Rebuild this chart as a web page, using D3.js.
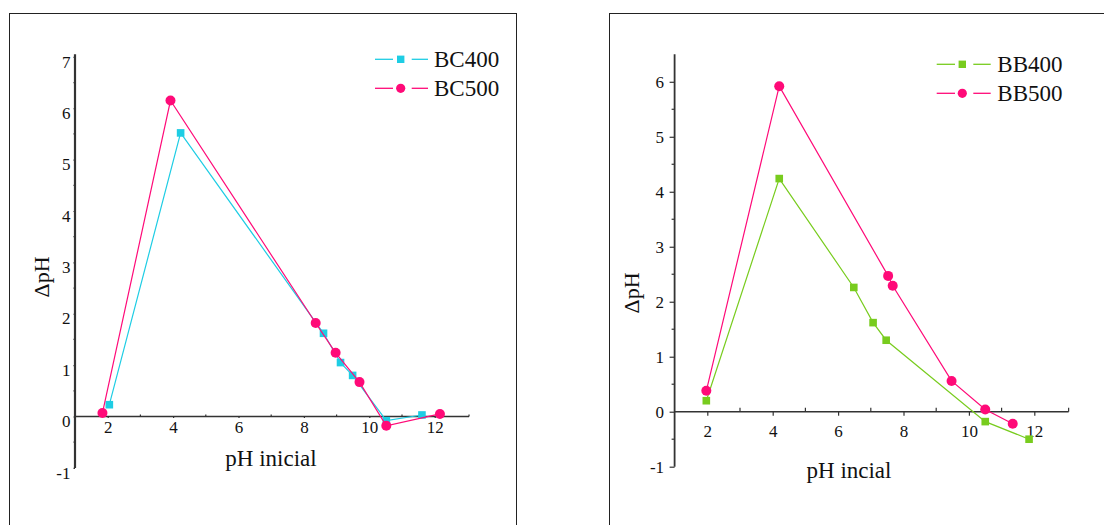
<!DOCTYPE html>
<html><head><meta charset="utf-8">
<script src="https://cdn.jsdelivr.net/npm/d3@7"></script>
<style>html,body{margin:0;padding:0;background:#fff;} svg{display:block;}</style>
</head><body>
<svg id="chart" width="1104" height="525"></svg>
<script>
// ---- Data ----
const bc400X = [2.05, 4.23, 8.60, 9.12, 9.49, 10.52, 11.61];
const bc400Y = [0.23, 5.52, 1.62, 1.05, 0.80, -0.08, 0.03];
const bc500X = [1.84, 3.92, 8.36, 8.97, 9.70, 10.52, 12.16];
const bc500Y = [0.07, 6.15, 1.82, 1.24, 0.67, -0.18, 0.05];

const bb400X = [1.97, 4.20, 6.48, 7.07, 7.47, 10.50, 11.84];
const bb400Y = [0.20, 4.24, 2.26, 1.62, 1.30, -0.18, -0.50];
const bb500X = [1.97, 4.20, 7.53, 7.67, 9.47, 10.50, 11.34];
const bb500Y = [0.38, 5.92, 2.47, 2.29, 0.56, 0.04, -0.22];

const xTickValues = [2, 4, 6, 8, 10, 12];
const xMinorTicks = [3, 5, 7, 9, 11];
const leftYTicks = [-1, 0, 1, 2, 3, 4, 5, 6, 7];
const rightYTicks = [-1, 0, 1, 2, 3, 4, 5, 6];
const leftSeriesNames = ["BC400", "BC500"];
const rightSeriesNames = ["BB400", "BB500"];

const CYAN = "#1ecde4", PINK = "#ff0a78", GREEN = "#78cc1e", AXIS = "#333";
const FONT = "'Liberation Serif','Times New Roman',serif";

const svg = d3.select("#chart");

// panel frames
svg.append("rect").attr("x", 9.5).attr("y", 13.5).attr("width", 507).attr("height", 540)
  .attr("fill", "none").attr("stroke", "#222").attr("stroke-width", 1);
svg.append("rect").attr("x", 609.5).attr("y", 13.5).attr("width", 540).attr("height", 540)
  .attr("fill", "none").attr("stroke", "#222").attr("stroke-width", 1);

const fmt = d => String(d);

function styleLabels(sel) {
  sel.selectAll(".tick text")
    .style("font-family", FONT).style("font-size", "17px").style("fill", "#111");
}

function drawPanel(o) {
  const g = svg.append("g");
  const x = d3.scaleLinear().domain([1, 13.05]).range([o.x0, o.x0 + 12.05 * 32.7]);
  const y = d3.scaleLinear().domain(o.yDomain).range(o.yRange);

  // y axis
  const yAx = g.append("g").attr("transform", `translate(${o.x0},0)`)
    .call(d3.axisLeft(y).tickValues(o.yTicks).tickSize(o.yMajor).tickPadding(o.yPad).tickFormat(fmt));
  yAx.select(".domain").attr("stroke", AXIS).attr("stroke-width", o.yAxisW)
    .attr("d", `M0,${y(o.yDomain[1])}V${y(o.yDomain[0])}`);
  yAx.selectAll(".tick line").attr("stroke", AXIS).attr("stroke-width", 1.2);
  yAx.selectAll(".tick text").attr("dy", o.yLabelDy);
  styleLabels(yAx);
  const yMinor = d3.range(o.yDomain[0] + 0.5, o.yDomain[1], 1);
  g.append("g").selectAll("line").data(yMinor).join("line")
    .attr("x1", o.x0 - o.yMinor).attr("x2", o.x0).attr("y1", d => y(d)).attr("y2", d => y(d))
    .attr("stroke", AXIS).attr("stroke-width", 1.2);

  // x axis at y = 0
  const y0 = y(0);
  const xAx = g.append("g").attr("transform", `translate(0,${y0})`)
    .call(d3.axisBottom(x).tickValues(xTickValues).tickSize(o.xMajor).tickPadding(o.xPad).tickFormat(fmt));
  xAx.select(".domain").attr("stroke", AXIS).attr("stroke-width", 1.6)
    .attr("d", `M${x(1)},0H${x(13.05)}`);
  xAx.selectAll(".tick line").attr("stroke", AXIS).attr("stroke-width", 1.2);
  styleLabels(xAx);
  g.append("g").selectAll("line").data(xMinorTicks.concat([13.05])).join("line")
    .attr("x1", d => x(d)).attr("x2", d => x(d)).attr("y1", y0 - o.xMinor).attr("y2", y0)
    .attr("stroke", AXIS).attr("stroke-width", 1.2);

  // titles
  g.append("text").attr("transform", `translate(${o.yTitleX},${o.yTitleY}) rotate(-90)`)
    .attr("text-anchor", "middle").attr("dominant-baseline", "central")
    .style("font-family", FONT).style("font-size", "22px").attr("fill", "#111").text("ΔpH");
  g.append("text").attr("x", o.xTitleX).attr("y", o.xTitleY)
    .attr("text-anchor", "middle").attr("dominant-baseline", "central")
    .style("font-family", FONT).style("font-size", "23px").attr("fill", "#111").text(o.xTitle);

  const line = d3.line().x(d => x(d[0])).y(d => y(d[1]));
  o.series.forEach(s => {
    const pts = s.xs.map((v, i) => [v, s.ys[i]]);
    g.append("path").attr("d", line(pts)).attr("fill", "none").attr("stroke", s.color).attr("stroke-width", 1.2);
    if (s.shape === "square") {
      g.append("g").selectAll("rect").data(pts).join("rect")
        .attr("x", d => x(d[0]) - 3.8).attr("y", d => y(d[1]) - 3.8).attr("width", 7.6).attr("height", 7.6)
        .attr("fill", s.color);
    } else {
      g.append("g").selectAll("circle").data(pts).join("circle")
        .attr("cx", d => x(d[0])).attr("cy", d => y(d[1])).attr("r", 5).attr("fill", s.color);
    }
  });

  // legend
  o.series.forEach((s, i) => {
    const ly = o.legY[i];
    const L = o.leg;
    g.append("line").attr("x1", L[0]).attr("x2", L[1]).attr("y1", ly).attr("y2", ly).attr("stroke", s.color).attr("stroke-width", 1.3);
    g.append("line").attr("x1", L[3]).attr("x2", L[4]).attr("y1", ly).attr("y2", ly).attr("stroke", s.color).attr("stroke-width", 1.3);
    if (s.shape === "square") {
      g.append("rect").attr("x", L[2] - 3.7).attr("y", ly - 3.7).attr("width", 7.4).attr("height", 7.4).attr("fill", s.color);
    } else {
      g.append("circle").attr("cx", L[2]).attr("cy", ly).attr("r", 4.6).attr("fill", s.color);
    }
    g.append("text").attr("x", L[5]).attr("y", ly).attr("dominant-baseline", "central")
      .style("font-family", FONT).style("font-size", "23px").attr("fill", "#111").text(s.name);
  });
}

drawPanel({
  x0: 75, yDomain: [-1, 7.05], yRange: [467.9, 54.3], yTicks: leftYTicks,
  yMajor: 1.5, yMinor: 1.5, yPad: 3, yAxisW: 2.2, yLabelDy: "0.6em",
  xMajor: 1.5, xMinor: 2, xPad: 2.5,
  yTitleX: 41, yTitleY: 277, xTitleX: 271, xTitleY: 458, xTitle: "pH inicial",
  legY: [59.3, 88.3], leg: [375, 393, 400.7, 411.7, 428, 434],
  series: [
    { name: leftSeriesNames[0], xs: bc400X, ys: bc400Y, color: CYAN, shape: "square" },
    { name: leftSeriesNames[1], xs: bc500X, ys: bc500Y, color: PINK, shape: "circle" }
  ]
});

drawPanel({
  x0: 674.6, yDomain: [-1, 6.5], yRange: [466.7, 54.3], yTicks: rightYTicks,
  yMajor: 5, yMinor: 3, yPad: 5.5, yAxisW: 1.8, yLabelDy: "0.32em",
  xMajor: 4, xMinor: 4, xPad: 9.5,
  yTitleX: 631, yTitleY: 293, xTitleX: 849, xTitleY: 470, xTitle: "pH incial",
  legY: [64.3, 93.3], leg: [936.7, 955, 962.3, 973.3, 990.7, 997.3],
  series: [
    { name: rightSeriesNames[0], xs: bb400X, ys: bb400Y, color: GREEN, shape: "square" },
    { name: rightSeriesNames[1], xs: bb500X, ys: bb500Y, color: PINK, shape: "circle" }
  ]
});
</script>
</body></html>
